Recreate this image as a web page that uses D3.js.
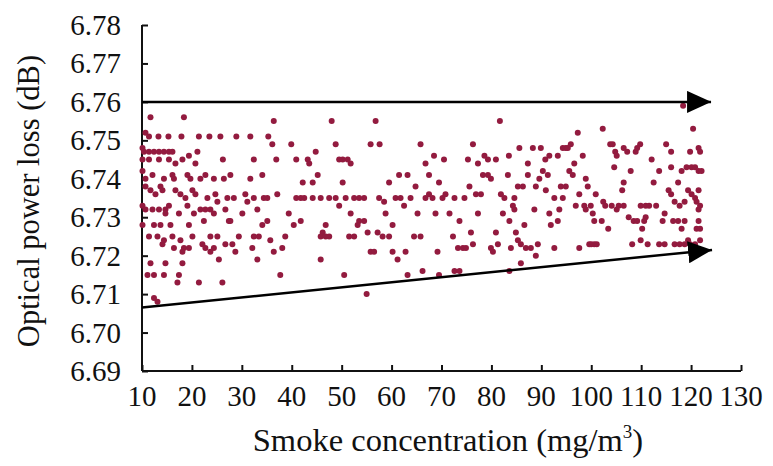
<!DOCTYPE html>
<html lang="en">
<head>
<meta charset="UTF-8">
<title>Optical power loss vs smoke concentration</title>
<script src="https://d3js.org/d3.v7.min.js"></script>
<style>
    body { margin: 0; background: #fff; overflow: hidden; }
    .tick-label { font-family: "Liberation Serif", "Times New Roman", serif; font-size: 29px; fill: #111; }
    .axis-title { font-family: "Liberation Serif", "Times New Roman", serif; fill: #111; }
</style>
</head>
<body>
<svg id="chart" width="773" height="466"></svg>
<script>
// measured points [smoke concentration, optical power loss]
const samples = [
  [11.7,6.756],[18.4,6.756],[36.4,6.755],[10.7,6.752],[11.4,6.751],[13.3,6.751],[15.3,6.751],[17.9,6.751],[21.4,6.751],[23.5,6.751],[25.7,6.751],[28.9,6.751],[31.7,6.751],[35.3,6.751],[36.1,6.749],[39.9,6.749],
  [10.1,6.748],[10.4,6.747],[11.4,6.747],[12.4,6.747],[13.4,6.747],[14.4,6.747],[15.4,6.747],[16.1,6.747],[10.1,6.745],[11.4,6.745],[13.4,6.745],[15.4,6.745],[18.1,6.745],[19.4,6.746],[21.1,6.747],[16.7,6.744],[20.7,6.744],[26.2,6.745],[32.4,6.745],[36.9,6.745],[40.9,6.745],
  [10.1,6.742],[12.1,6.741],[10.7,6.740],[14.4,6.740],[16.1,6.741],[16.4,6.740],[19.1,6.741],[19.7,6.740],[21.7,6.740],[22.7,6.741],[24.4,6.740],[26.4,6.740],[27.7,6.741],[31.7,6.740],[34.1,6.741],
  [10.7,6.738],[11.7,6.737],[12.7,6.736],[13.7,6.738],[14.1,6.737],[16.7,6.737],[17.7,6.736],[18.7,6.735],[20.1,6.737],[20.7,6.736],[23.1,6.735],[24.7,6.736],[27.1,6.735],[28.4,6.735],[30.7,6.736],[32.4,6.735],[34.4,6.735],[35.1,6.735],[37.1,6.736],[40.9,6.735],
  [10.1,6.733],[10.7,6.732],[12.1,6.732],[13.4,6.732],[14.7,6.732],[15.4,6.733],[14.7,6.731],[17.4,6.731],[19.1,6.733],[20.4,6.731],[21.7,6.732],[22.7,6.732],[23.7,6.732],[24.4,6.731],[25.1,6.734],[26.7,6.732],[27.4,6.729],[30.1,6.731],[31.1,6.734],[33.1,6.732],[35.1,6.729],[39.4,6.731],
  [10.1,6.728],[12.4,6.728],[13.7,6.728],[15.7,6.728],[19.4,6.728],[22.4,6.729],[27.7,6.729],[34.1,6.728],[40.4,6.728],[38.7,6.725],
  [11.4,6.725],[13.1,6.725],[14.4,6.724],[14.1,6.723],[16.1,6.725],[16.4,6.722],[17.7,6.724],[18.4,6.722],[20.1,6.725],[22.1,6.723],[22.7,6.722],[23.7,6.725],[25.1,6.725],[24.4,6.722],[26.7,6.723],[28.1,6.723],[29.4,6.725],[32.4,6.725],[33.4,6.725],[32.1,6.722],[35.7,6.724],[38.1,6.722],
  [18.1,6.721],[19.4,6.722],[23.7,6.721],[25.4,6.719],[28.7,6.721],[33.1,6.719],[36.4,6.721],
  [11.7,6.718],[14.7,6.718],[18.1,6.718],[11.1,6.715],[12.4,6.715],[14.4,6.715],[17.4,6.715],[17.1,6.713],[21.4,6.713],[26.1,6.713],[37.7,6.715],[12.4,6.709],[13.1,6.708],
  [48.0,6.755],[56.8,6.755],[48.8,6.749],[55.8,6.749],[57.6,6.749],[65.8,6.749],[44.8,6.747],[43.2,6.745],[43.5,6.744],[49.5,6.745],[50.2,6.745],[51.2,6.745],[51.8,6.744],[68.5,6.746],[66.8,6.744],[70.5,6.745],
  [45.2,6.741],[42.2,6.739],[44.2,6.739],[50.2,6.739],[59.5,6.739],[61.5,6.741],[63.2,6.741],[64.8,6.738],[67.5,6.741],[69.5,6.739],
  [41.8,6.735],[42.5,6.735],[44.2,6.735],[45.8,6.735],[47.5,6.735],[48.8,6.735],[50.8,6.735],[52.5,6.735],[53.5,6.735],[54.5,6.735],[57.5,6.735],[60.8,6.735],[61.8,6.735],[62.5,6.733],[63.8,6.735],[66.8,6.735],[67.5,6.736],[68.2,6.735],[70.2,6.735],[70.8,6.736],
  [58.5,6.734],[49.5,6.733],[41.8,6.729],[51.8,6.731],[53.5,6.729],[54.5,6.729],[53.2,6.728],[58.8,6.731],[65.2,6.731],[68.8,6.731],
  [46.8,6.728],[46.2,6.726],[45.8,6.725],[46.8,6.725],[47.5,6.725],[51.5,6.725],[52.5,6.725],[55.2,6.726],[57.2,6.726],[58.2,6.725],[59.5,6.725],[60.2,6.728],[64.5,6.725],[65.8,6.725],
  [55.8,6.721],[56.5,6.721],[60.2,6.721],[61.2,6.719],[62.8,6.721],[69.2,6.721],[45.8,6.719],[50.5,6.715],[63.2,6.715],[66.2,6.716],[69.5,6.715],[55.0,6.710],
  [81.7,6.755],[97.3,6.752],[76.3,6.749],[85.6,6.748],[88.3,6.748],[89.9,6.748],[94.3,6.748],[94.9,6.748],[95.9,6.749],[95.3,6.748],
  [78.6,6.746],[79.3,6.745],[80.9,6.745],[83.5,6.746],[75.3,6.745],[77.3,6.744],[87.3,6.744],[90.8,6.745],[91.6,6.746],[93.3,6.746],[98.3,6.746],[96.6,6.744],
  [90.3,6.742],[95.6,6.742],[96.3,6.741],[78.3,6.741],[79.3,6.741],[79.9,6.740],[83.3,6.741],[87.3,6.741],[89.6,6.740],[91.3,6.741],[98.9,6.740],[99.3,6.738],
  [75.6,6.738],[85.3,6.738],[86.3,6.738],[88.9,6.738],[93.9,6.738],[94.9,6.738],
  [72.6,6.735],[74.6,6.735],[76.9,6.736],[77.9,6.736],[81.9,6.736],[82.6,6.735],[84.6,6.735],[84.3,6.733],[84.6,6.732],[90.9,6.737],[92.6,6.735],[94.3,6.735],[97.6,6.736],[96.9,6.733],[98.6,6.733],[98.9,6.732],[99.9,6.733],[100.9,6.736],
  [88.6,6.732],[93.6,6.732],[71.6,6.731],[77.3,6.731],[82.3,6.731],[91.6,6.731],[100.3,6.731],[73.6,6.729],[83.6,6.729],[93.3,6.729],[100.6,6.729],[86.6,6.728],[91.9,6.728],
  [75.9,6.726],[80.9,6.726],[84.9,6.726],[72.3,6.725],
  [73.3,6.722],[74.3,6.722],[74.9,6.722],[76.3,6.723],[79.9,6.722],[80.3,6.721],[81.3,6.723],[83.9,6.722],[85.3,6.724],[85.9,6.723],[86.9,6.722],[87.9,6.722],[89.3,6.723],[88.9,6.720],[92.6,6.722],[97.6,6.722],[99.6,6.723],[100.6,6.723],
  [85.9,6.718],[72.6,6.716],[73.6,6.716],[83.6,6.716],
  [118.4,6.759],[120.4,6.759],[102.3,6.753],[120.4,6.753],[103.8,6.749],[104.3,6.749],[109.8,6.749],[115.0,6.749],
  [104.8,6.747],[105.1,6.746],[106.5,6.748],[107.2,6.747],[108.9,6.747],[109.2,6.748],[112.1,6.745],[116.0,6.747],[119.8,6.747],[121.5,6.748],[121.8,6.747],
  [104.6,6.743],[107.9,6.742],[113.6,6.742],[116.0,6.743],[118.1,6.742],[119.1,6.743],[120.1,6.743],[120.8,6.743],[121.5,6.742],[122.1,6.742],
  [106.5,6.739],[106.2,6.737],[112.5,6.739],[115.5,6.737],[116.0,6.736],[117.4,6.739],[119.4,6.737],[120.1,6.736],[121.5,6.737],
  [102.4,6.734],[102.8,6.733],[104.1,6.733],[105.5,6.733],[106.5,6.733],[109.9,6.733],[110.9,6.733],[111.6,6.733],[113.0,6.733],[116.7,6.734],[117.7,6.733],[118.7,6.734],[120.8,6.735],[121.1,6.734],[121.8,6.733],[121.5,6.732],[105.1,6.732],
  [102.1,6.729],[107.5,6.730],[108.5,6.729],[109.2,6.729],[110.9,6.730],[110.6,6.729],[114.7,6.731],[114.3,6.729],[116.4,6.729],[117.4,6.729],[118.7,6.729],[121.5,6.729],
  [103.4,6.727],[110.2,6.727],[118.1,6.727],[121.1,6.727],[121.8,6.727],
  [109.9,6.724],[108.2,6.723],[111.3,6.723],[113.6,6.723],[114.7,6.723],[116.7,6.723],[117.7,6.723],[118.7,6.723],[119.4,6.724],[119.8,6.723],[120.8,6.723],[121.8,6.724],[100.0,6.723],[101.1,6.723]
];
const xTicks = [10, 20, 30, 40, 50, 60, 70, 80, 90, 100, 110, 120, 130];
const yTicks = [6.69, 6.70, 6.71, 6.72, 6.73, 6.74, 6.75, 6.76, 6.77, 6.78];
// envelope arrows: [start, end] in data units
const upperArrow = [[10, 6.760], [124.0, 6.760]];
const lowerArrow = [[10, 6.7065], [124.2, 6.7215]];

const svg = d3.select("#chart");
const x = d3.scaleLinear().domain([10, 130]).range([142, 741]);
const y = d3.scaleLinear().domain([6.69, 6.78]).range([371, 25]);

svg.append("defs").append("marker")
    .attr("id", "head")
    .attr("viewBox", "0 0 24 22")
    .attr("refX", 24).attr("refY", 11)
    .attr("markerWidth", 24).attr("markerHeight", 22)
    .attr("markerUnits", "userSpaceOnUse")
    .attr("orient", "auto")
  .append("path")
    .attr("d", "M0,0 L24,11 L0,22 Z")
    .attr("fill", "#000");

// axes
const xAxis = svg.append("g").attr("transform", `translate(0,${y(6.69)})`)
    .call(d3.axisBottom(x).tickValues(xTicks).tickSize(-6).tickFormat(""));
const yAxis = svg.append("g").attr("transform", `translate(${x(10)},0)`)
    .call(d3.axisLeft(y).tickValues(yTicks).tickSize(-6).tickFormat(""));
[xAxis, yAxis].forEach(g => {
    g.select(".domain").attr("stroke", "#111").attr("stroke-width", 2);
    g.selectAll(".tick line").attr("stroke", "#111").attr("stroke-width", 2);
});
xAxis.select(".domain").attr("d", `M${x(10)},0H${x(130)}`);
yAxis.select(".domain").attr("d", `M0,${y(6.78)}V${y(6.69)}`);

svg.append("g").selectAll("text")
    .data(xTicks).join("text")
    .attr("class", "tick-label")
    .attr("text-anchor", "middle")
    .attr("x", d => x(d))
    .attr("y", 406)
    .text(d => d);

svg.append("g").selectAll("text")
    .data(yTicks).join("text")
    .attr("class", "tick-label")
    .attr("text-anchor", "end")
    .attr("x", 121)
    .attr("y", d => y(d) + 10)
    .text(d => d.toFixed(2));

// axis titles
const xt = svg.append("text")
    .attr("class", "axis-title")
    .attr("text-anchor", "middle")
    .attr("font-size", 32.5)
    .attr("x", 448)
    .attr("y", 451);
xt.append("tspan").text("Smoke concentration (mg/m");
xt.append("tspan").attr("font-size", 19).attr("dy", -13).text("3");
xt.append("tspan").attr("dy", 13).text(")");

svg.append("text")
    .attr("class", "axis-title")
    .attr("text-anchor", "middle")
    .attr("font-size", 30.5)
    .attr("transform", "translate(39,201) rotate(-90)")
    .text("Optical power loss (dB)");

// points
svg.append("g").selectAll("circle")
    .data(samples).join("circle")
    .attr("cx", d => x(d[0]))
    .attr("cy", d => y(d[1]))
    .attr("r", 3)
    .attr("fill", "#931b3f");

// arrows
const line = d3.line().x(d => x(d[0])).y(d => y(d[1]));
[upperArrow, lowerArrow].forEach(a => {
    svg.append("path")
        .attr("d", line(a))
        .attr("fill", "none")
        .attr("stroke", "#000")
        .attr("stroke-width", 2.5)
        .attr("marker-end", "url(#head)");
});
</script>
</body>
</html>
